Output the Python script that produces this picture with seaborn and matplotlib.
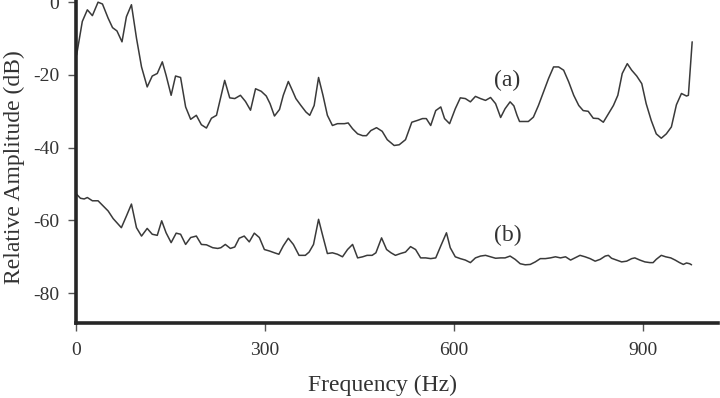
import numpy as np
import pandas as pd
import matplotlib
matplotlib.use("Agg")
import matplotlib.pyplot as plt
import seaborn as sns

# curve (a) - upper spectrum
freq_a = [1, 10, 18, 26, 35, 42, 51, 58, 65, 73, 80, 88, 96, 104, 113, 121, 129, 137, 143,
          151, 158, 166, 174, 182, 191, 199, 207, 215, 223, 236, 244, 252, 261, 269, 277,
          285, 294, 302, 308, 315, 323, 329, 337, 344, 349, 357, 365, 371, 378, 385, 392,
          399, 407, 415, 426, 432, 439, 447, 455, 461, 468, 477, 486, 494, 505, 513, 523,
          533, 542, 550, 556, 563, 571, 579, 585, 593, 602, 610, 618, 626, 634, 642, 650,
          658, 666, 674, 681, 689, 695, 700, 704, 711, 718, 726, 734, 742, 750, 758, 766,
          774, 782, 790, 798, 805, 813, 821, 829, 837, 845, 853, 860, 867, 875, 882, 890,
          898, 905, 913, 921, 929, 937, 945, 953, 961, 969, 972, 978]
amp_a = [-14.5, -5.3, -2.1, -3.7, 0.0, -0.5, -4.4, -7.0, -7.9, -10.9, -4.0, -0.7, -9.9, -17.8,
         -23.3, -20.3, -19.6, -16.4, -20.1, -25.6, -20.3, -20.7, -28.8, -32.2, -31.1, -33.7,
         -34.6, -31.9, -31.1, -21.5, -26.3, -26.5, -25.6, -27.3, -29.7, -23.8, -24.5, -25.8,
         -27.9, -31.3, -29.5, -25.6, -21.8, -24.5, -26.5, -28.4, -30.2, -31.1, -28.4, -20.7,
         -25.6, -31.1, -33.9, -33.4, -33.4, -33.2, -34.8, -36.2, -36.7, -36.7, -35.3, -34.5,
         -35.5, -37.8, -39.4, -39.2, -37.8, -33.0, -32.5, -32.0, -32.0, -33.9, -29.8, -28.8,
         -32.0, -33.4, -29.3, -26.3, -26.5, -27.4, -25.9, -26.5, -27.0, -26.2, -27.9, -31.7,
         -29.3, -27.4, -28.5, -31.1, -32.8, -32.8, -32.8, -31.6, -28.4, -24.7, -21.0, -17.8,
         -17.8, -18.7, -21.9, -25.6, -28.4, -29.8, -30.0, -31.9, -32.0, -33.0, -30.7, -28.4,
         -25.6, -19.6, -16.9, -18.7, -20.3, -22.4, -27.9, -32.5, -36.2, -37.4, -36.2, -34.3,
         -28.2, -25.1, -25.8, -25.6, -10.9]

# curve (b) - lower spectrum
freq_b = [1, 7, 13, 18, 26, 35, 43, 51, 59, 72, 80, 88, 96, 104, 113, 121, 129, 136, 143, 151,
          159, 166, 174, 182, 191, 199, 207, 217, 225, 230, 237, 245, 252, 259, 267, 275, 283,
          291, 299, 307, 315, 322, 329, 337, 345, 354, 364, 370, 377, 385, 391, 399, 407, 415,
          423, 431, 439, 447, 455, 462, 470, 476, 485, 493, 500, 507, 515, 523, 531, 539, 547,
          555, 563, 571, 579, 588, 594, 602, 610, 618, 626, 634, 642, 650, 658, 666, 674, 681,
          689, 697, 705, 713, 721, 729, 737, 745, 753, 761, 769, 777, 785, 792, 800, 808, 816,
          824, 832, 840, 845, 850, 858, 866, 874, 882, 887, 895, 903, 911, 916, 921, 929, 936,
          944, 951, 958, 964, 969, 974, 977]
amp_b = [-52.8, -53.9, -54.1, -53.7, -54.6, -54.6, -56.0, -57.4, -59.5, -62.0, -58.8, -55.5,
         -62.0, -64.3, -62.2, -63.8, -64.1, -60.1, -63.4, -66.1, -63.5, -63.8, -66.6, -64.7,
         -64.3, -66.6, -66.7, -67.5, -67.7, -67.5, -66.6, -67.7, -67.3, -64.9, -64.3, -65.9,
         -63.5, -64.7, -68.0, -68.4, -68.9, -69.3, -67.0, -64.9, -66.6, -69.6, -69.6, -68.7,
         -66.6, -59.7, -63.8, -69.1, -68.9, -69.3, -70.0, -68.0, -66.6, -70.3, -70.0, -69.6,
         -69.6, -68.9, -64.8, -68.0, -68.9, -69.6, -69.1, -68.7, -67.2, -68.0, -70.3, -70.3,
         -70.5, -70.3, -67.0, -63.4, -67.5, -70.0, -70.5, -70.9, -71.6, -70.3, -69.8, -69.6,
         -70.0, -70.4, -70.3, -70.3, -69.8, -70.7, -71.9, -72.2, -72.1, -71.4, -70.5, -70.5,
         -70.3, -70.0, -70.3, -70.0, -70.9, -70.3, -69.6, -70.0, -70.5, -71.2, -70.7, -69.8,
         -69.6, -70.4, -70.9, -71.4, -71.2, -70.5, -70.3, -70.9, -71.4, -71.6, -71.6, -70.7,
         -69.6, -70.0, -70.3, -70.9, -71.6, -72.1, -71.7, -71.9, -72.2]

x_ticks = [0, 300, 600, 900]
y_ticks = [-80, -60, -40, -20, 0]

df_a = pd.DataFrame({'Frequency': freq_a, 'Amplitude': amp_a})
df_b = pd.DataFrame({'Frequency': freq_b, 'Amplitude': amp_b})

sns.set_style("ticks")
plt.rcParams['font.family'] = ['Liberation Serif', 'DejaVu Serif']
plt.rcParams['axes.unicode_minus'] = False

fig = plt.figure(figsize=(7.2, 3.98), dpi=100)
ax = fig.add_axes([76 / 720, 1 - 323 / 398, 642 / 720, 323 / 398])

line_col = '#3a3a3a'
sns.lineplot(data=df_a, x='Frequency', y='Amplitude', ax=ax, color=line_col, lw=1.1, estimator=None)
sns.lineplot(data=df_b, x='Frequency', y='Amplitude', ax=ax, color=line_col, lw=1.1, estimator=None)

ax.text(684, -21.4, '(a)', fontsize=17, ha='center', va='center', color='#333333')
ax.text(686, -64, '(b)', fontsize=17, ha='center', va='center', color='#333333')

ax.set_xlim(0, 1019)
ax.set_ylim(-88.2, 0.6)
ax.set_xticks(x_ticks)
ax.set_yticks(y_ticks)
ax.tick_params(axis='both', labelsize=14, length=6, width=1, color='#555555', labelcolor='#333333')
ax.tick_params(axis='x', pad=8)
ax.tick_params(axis='y', pad=6)

for s in ['top', 'right']:
    ax.spines[s].set_visible(False)
for s in ['left', 'bottom']:
    ax.spines[s].set_linewidth(2.6)
    ax.spines[s].set_color('#262626')

ax.set_xlabel('Frequency (Hz)', fontsize=17, color='#333333', va='center')
ax.set_ylabel('Relative Amplitude (dB)', fontsize=17, color='#333333', va='center')
ax.xaxis.set_label_coords(0.477, -0.192)
ax.yaxis.set_label_coords(-0.0966, 0.483)

fig.savefig('out.png', dpi=100)
